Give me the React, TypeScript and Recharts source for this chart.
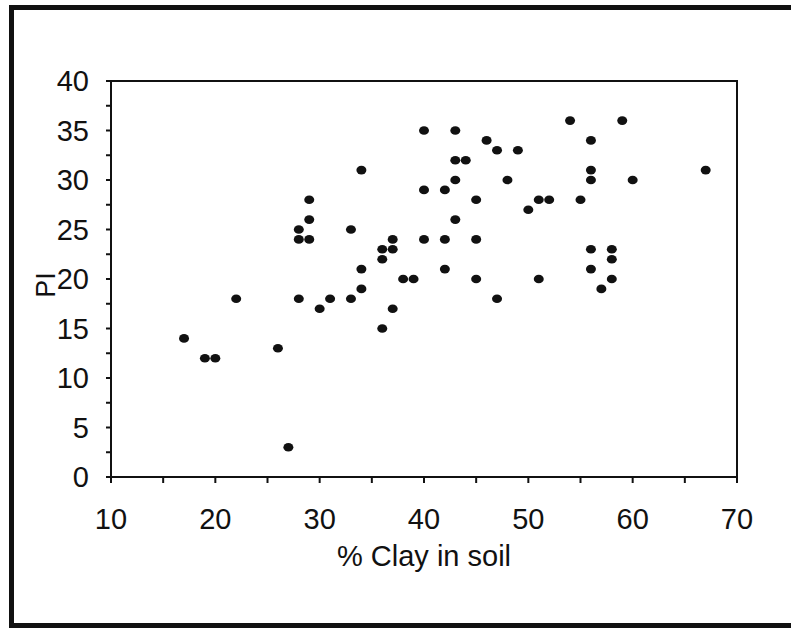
import { ScatterChart, Scatter, XAxis, YAxis, ReferenceArea } from 'recharts'

// % clay (x) and plasticity index (y)
const CLAY = [
  17, 19, 20, 22, 26, 27, 28, 28, 29, 29, 29, 28, 30, 31, 33, 33, 34, 34, 34, 36, 36, 37, 37, 36, 37, 38, 39, 40, 40, 40,
  42, 42, 42, 43, 43, 44, 43, 43, 45, 45, 45, 46, 47, 49, 48, 47, 50, 51, 52, 51, 54, 55, 56, 56, 56, 56, 56, 58, 58, 58,
  57, 59, 60, 67,
]
const PI = [
  14, 12, 12, 18, 13, 3, 25, 24, 24, 26, 28, 18, 17, 18, 18, 25, 31, 21, 19, 23, 22, 23, 24, 15, 17, 20, 20, 35, 29, 24,
  29, 24, 21, 35, 32, 32, 30, 26, 28, 24, 20, 34, 33, 33, 30, 18, 27, 28, 28, 20, 36, 28, 34, 31, 30, 23, 21, 23, 22, 20,
  19, 36, 30, 31,
]
const X_TICKS = [10, 15, 20, 25, 30, 35, 40, 45, 50, 55, 60, 65, 70]
const Y_TICKS = [0, 2.5, 5, 7.5, 10, 12.5, 15, 17.5, 20, 22.5, 25, 27.5, 30, 32.5, 35, 37.5, 40]

const data = CLAY.map((c, i) => ({ clay: c, pi: PI[i] }))

const FONT = '"Liberation Sans", Arial, sans-serif'
const tickStyle = { fill: '#111', fontSize: 29, fontFamily: FONT }

const Dot = (props: any) => {
  const { cx, cy } = props
  if (cx == null || cy == null) return null
  return <ellipse cx={cx} cy={cy} rx={5} ry={4.3} fill="#111" />
}

const PiLabel = (props: any) => {
  const vb = props.viewBox
  const x = vb.x + 5
  const y = vb.y + vb.height / 2 + 6
  return (
    <text
      x={x}
      y={y}
      transform={`rotate(-90, ${x}, ${y})`}
      textAnchor="middle"
      dominantBaseline="central"
      fill="#111"
      fontSize={27}
      fontFamily={FONT}
    >
      PI
    </text>
  )
}

export default function App() {
  return (
    <div style={{ position: 'absolute', left: 0, top: 0, width: 791, height: 633, overflow: 'hidden', background: '#fff' }}>
      <div
        style={{
          position: 'absolute',
          left: 9,
          top: 5,
          width: 800,
          height: 623,
          borderLeft: '5px solid #111',
          borderTop: '5px solid #111',
          borderBottom: '5px solid #111',
          boxSizing: 'border-box',
        }}
      />
      <div style={{ position: 'absolute', left: 0, top: 0 }}>
        <ScatterChart width={791} height={633} margin={{ top: 81, right: 54, left: 41, bottom: 56 }}>
          <XAxis
            type="number"
            dataKey="clay"
            domain={[10, 70]}
            ticks={X_TICKS}
            tickFormatter={(v) => (v % 10 === 0 ? String(v) : '')}
            tick={tickStyle}
            tickSize={6}
            tickMargin={25}
            height={100}
            stroke="#111"
            strokeWidth={2}
            interval={0}
            allowDataOverflow
            label={{ value: '% Clay in soil', position: 'insideBottom', offset: 11, fill: '#111', fontSize: 29, fontFamily: FONT }}
          />
          <YAxis
            type="number"
            dataKey="pi"
            domain={[0, 40]}
            ticks={Y_TICKS}
            tickFormatter={(v) => (v % 5 === 0 ? String(v) : '')}
            tick={tickStyle}
            tickSize={5}
            tickMargin={17}
            width={70}
            stroke="#111"
            strokeWidth={2}
            interval={0}
            allowDataOverflow
            label={<PiLabel />}
          />
          <ReferenceArea x1={10} x2={70} y1={0} y2={40} fill="none" stroke="#111" strokeWidth={2} ifOverflow="visible" />
          <Scatter data={data} shape={<Dot />} isAnimationActive={false} />
        </ScatterChart>
      </div>
    </div>
  )
}
